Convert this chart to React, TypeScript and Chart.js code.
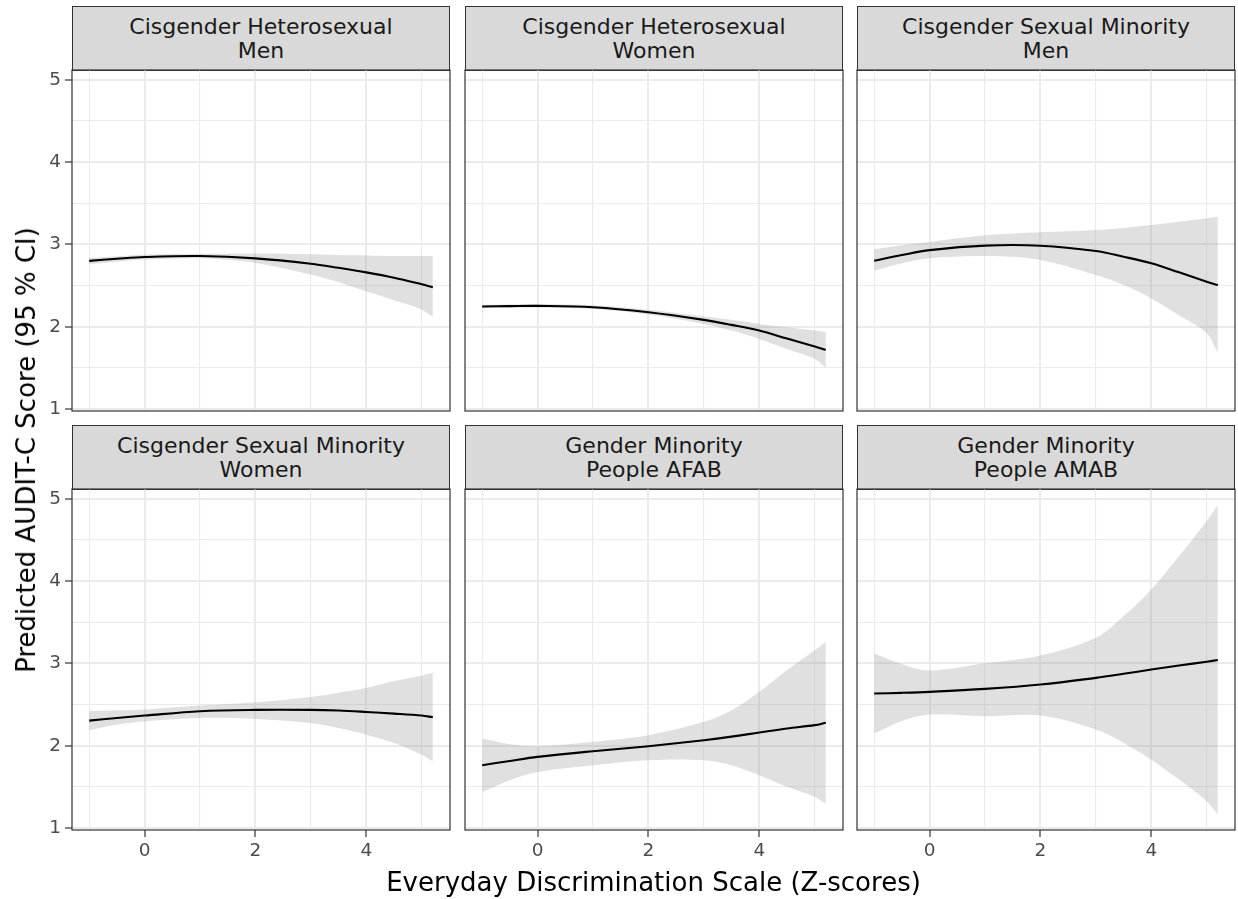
import React, { useEffect, useRef } from 'react';
import { Chart, registerables } from 'chart.js';

Chart.register(...registerables);

// ---------- data ----------
const xValues = [-1, -0.5, 0, 1, 2, 3, 3.5, 4, 4.5, 5, 5.2];

const panelTitles = [
  ['Cisgender Heterosexual', 'Men'],
  ['Cisgender Heterosexual', 'Women'],
  ['Cisgender Sexual Minority', 'Men'],
  ['Cisgender Sexual Minority', 'Women'],
  ['Gender Minority', 'People AFAB'],
  ['Gender Minority', 'People AMAB'],
];

const fitCHM = [2.80, 2.825, 2.846, 2.858, 2.83, 2.765, 2.715, 2.66, 2.595, 2.515, 2.48];
const upperCHM = [2.83, 2.855, 2.875, 2.885, 2.89, 2.88, 2.872, 2.866, 2.86, 2.858, 2.858];
const lowerCHM = [2.76, 2.79, 2.815, 2.83, 2.775, 2.634, 2.54, 2.43, 2.32, 2.207, 2.118];

const fitCHW = [2.245, 2.25, 2.253, 2.237, 2.176, 2.083, 2.022, 1.953, 1.856, 1.76, 1.719];
const upperCHW = [2.265, 2.27, 2.273, 2.26, 2.205, 2.123, 2.083, 2.034, 1.994, 1.953, 1.933];
const lowerCHW = [2.225, 2.23, 2.233, 2.214, 2.147, 2.034, 1.953, 1.852, 1.73, 1.61, 1.50];

const fitCSMM = [2.80, 2.87, 2.93, 2.985, 2.984, 2.92, 2.85, 2.77, 2.66, 2.547, 2.506];
const upperCSMM = [2.94, 2.99, 3.03, 3.11, 3.146, 3.174, 3.2, 3.235, 3.275, 3.316, 3.336];
const lowerCSMM = [2.68, 2.77, 2.83, 2.858, 2.81, 2.627, 2.506, 2.344, 2.14, 1.92, 1.684];

const fitCSMW = [2.305, 2.337, 2.366, 2.419, 2.435, 2.435, 2.427, 2.41, 2.39, 2.366, 2.346];
const upperCSMW = [2.42, 2.43, 2.44, 2.488, 2.528, 2.593, 2.642, 2.703, 2.785, 2.854, 2.886];
const lowerCSMW = [2.187, 2.256, 2.297, 2.337, 2.325, 2.276, 2.215, 2.134, 2.033, 1.89, 1.81];

const fitAFAB = [1.763, 1.815, 1.864, 1.933, 1.994, 2.067, 2.11, 2.16, 2.209, 2.25, 2.278];
const upperAFAB = [2.087, 2.018, 1.994, 2.047, 2.128, 2.29, 2.43, 2.655, 2.92, 3.16, 3.264];
const lowerAFAB = [1.438, 1.58, 1.68, 1.763, 1.824, 1.824, 1.763, 1.64, 1.5, 1.377, 1.296];

const fitAMAB = [2.634, 2.642, 2.654, 2.69, 2.743, 2.824, 2.873, 2.925, 2.974, 3.02, 3.04];
const upperAMAB = [3.12, 2.99, 2.913, 3.0, 3.096, 3.31, 3.574, 3.898, 4.30, 4.73, 4.92];
const lowerAMAB = [2.147, 2.30, 2.378, 2.358, 2.366, 2.196, 2.034, 1.83, 1.588, 1.325, 1.163];

const fits = [fitCHM, fitCHW, fitCSMM, fitCSMW, fitAFAB, fitAMAB];
const uppers = [upperCHM, upperCHW, upperCSMM, upperCSMW, upperAFAB, upperAMAB];
const lowers = [lowerCHM, lowerCHW, lowerCSMM, lowerCSMW, lowerAFAB, lowerAMAB];

const xTickValues = [-1, 0, 1, 2, 3, 4, 5];
const xTickLabels = ['', '0', '', '2', '', '4', ''];
const yTickValues = [1, 1.5, 2, 2.5, 3, 3.5, 4, 4.5, 5];
const yTickLabels = ['1', '', '2', '', '3', '', '4', '', '5'];

const xAxisTitle = 'Everyday Discrimination Scale (Z-scores)';
const yAxisTitle = 'Predicted AUDIT-C Score (95 % CI)';

// ---------- layout / style ----------
const X_MIN = -1.31;
const X_MAX = 5.51;
const Y_MIN = 0.976;
const Y_MAX = 5.118;

const COL_LEFT = [72, 465, 857];
const ROW_TOP = [70, 489];
const PLOT_W = 378;
const PLOT_H = 341;
const STRIP_H = 64;
const AXIS_W = 72;
const AXIS_H = 45;
const PAD_T = 15;
const PAD_R = 10;

const FONT = "'DejaVu Sans', 'Liberation Sans', sans-serif";
const BAND = 'rgba(153,153,153,0.3)';
const TENSION = 0.35;

const isMajorX = (v: number) => Math.abs(v % 2) < 1e-9;
const isMajorY = (v: number) => Math.abs(v - Math.round(v)) < 1e-9;

const borderPlugin = {
  id: 'panelBorder',
  afterDraw(chart: any) {
    const { ctx, chartArea } = chart;
    ctx.save();
    ctx.strokeStyle = '#333333';
    ctx.lineWidth = 1.2;
    ctx.strokeRect(chartArea.left, chartArea.top, chartArea.right - chartArea.left, chartArea.bottom - chartArea.top);
    ctx.restore();
  },
};

function Panel({ idx }: { idx: number }) {
  const ref = useRef<HTMLCanvasElement>(null);
  const col = idx % 3;
  const row = Math.floor(idx / 3);
  const showY = col === 0;
  const showX = row === 1;
  const cw = AXIS_W + PLOT_W + PAD_R;
  const ch = PAD_T + PLOT_H + AXIS_H;

  useEffect(() => {
    if (!ref.current) return;
    const mk = (arr: number[]) => xValues.map((x, i) => ({ x, y: arr[i] }));
    const chart = new Chart(ref.current, {
      type: 'line',
      data: {
        datasets: [
          {
            data: mk(fits[idx]),
            borderColor: '#000000',
            borderWidth: 2.1,
            pointRadius: 0,
            fill: false,
            tension: TENSION,
          },
          {
            data: mk(uppers[idx]),
            borderColor: 'rgba(0,0,0,0)',
            borderWidth: 0,
            pointRadius: 0,
            fill: false,
            tension: TENSION,
          },
          {
            data: mk(lowers[idx]),
            borderColor: 'rgba(0,0,0,0)',
            borderWidth: 0,
            pointRadius: 0,
            backgroundColor: BAND,
            fill: 1,
            tension: TENSION,
          },
        ],
      } as any,
      options: {
        animation: false,
        responsive: false,
        maintainAspectRatio: false,
        events: [],
        layout: { padding: { top: PAD_T, right: PAD_R, left: 0, bottom: 0 } },
        plugins: { legend: { display: false }, tooltip: { enabled: false } },
        scales: {
          x: {
            type: 'linear',
            min: X_MIN,
            max: X_MAX,
            afterBuildTicks: (s: any) => {
              s.ticks = xTickValues.map((v) => ({ value: v }));
            },
            afterFit: (s: any) => {
              s.height = AXIS_H;
              s.paddingLeft = 0;
              s.paddingRight = 0;
            },
            border: { display: false },
            grid: {
              color: '#ebebeb',
              lineWidth: (c: any) => (c.tick && isMajorX(c.tick.value) ? 2 : 1.1),
              drawTicks: showX,
              tickLength: 7,
              tickWidth: 1.2,
              tickColor: (c: any) => (c.tick && isMajorX(c.tick.value) ? '#333333' : 'rgba(0,0,0,0)'),
            },
            ticks: {
              display: showX,
              autoSkip: false,
              maxRotation: 0,
              padding: 3,
              color: '#4d4d4d',
              font: { family: FONT, size: 18.5 },
              callback: (_v: any, i: number) => xTickLabels[i],
            },
          },
          y: {
            type: 'linear',
            min: Y_MIN,
            max: Y_MAX,
            afterBuildTicks: (s: any) => {
              s.ticks = yTickValues.map((v) => ({ value: v }));
            },
            afterFit: (s: any) => {
              s.width = AXIS_W;
              s.paddingTop = 0;
              s.paddingBottom = 0;
            },
            border: { display: false },
            grid: {
              color: '#ebebeb',
              lineWidth: (c: any) => (c.tick && isMajorY(c.tick.value) ? 2 : 1.1),
              drawTicks: showY,
              tickLength: 7,
              tickWidth: 1.2,
              tickColor: (c: any) => (c.tick && isMajorY(c.tick.value) ? '#333333' : 'rgba(0,0,0,0)'),
            },
            ticks: {
              display: showY,
              autoSkip: false,
              padding: 4,
              color: '#4d4d4d',
              font: { family: FONT, size: 18.5 },
              callback: (_v: any, i: number) => yTickLabels[i],
            },
          },
        },
      } as any,
      plugins: [borderPlugin],
    });
    return () => chart.destroy();
  }, [idx]);

  return (
    <>
      <div
        style={{
          position: 'absolute',
          left: COL_LEFT[col],
          top: ROW_TOP[row] - STRIP_H,
          width: PLOT_W,
          height: STRIP_H + 1,
          boxSizing: 'border-box',
          background: '#d9d9d9',
          border: '1.2px solid #333333',
          display: 'flex',
          flexDirection: 'column',
          alignItems: 'center',
          justifyContent: 'center',
          fontFamily: FONT,
          fontSize: 22,
          lineHeight: '24px',
          color: '#1a1a1a',
          textAlign: 'center',
        }}
      >
        {panelTitles[idx].map((t, i) => (
          <div key={i}>{t}</div>
        ))}
      </div>
      <canvas
        ref={ref}
        width={cw}
        height={ch}
        style={{
          position: 'absolute',
          left: COL_LEFT[col] - AXIS_W,
          top: ROW_TOP[row] - PAD_T,
          width: cw,
          height: ch,
        }}
      />
    </>
  );
}

export default function App() {
  return (
    <div
      style={{
        position: 'absolute',
        left: 0,
        top: 0,
        width: 1238,
        height: 899,
        background: '#ffffff',
        overflow: 'hidden',
      }}
    >
      {[0, 1, 2, 3, 4, 5].map((i) => (
        <Panel key={i} idx={i} />
      ))}
      <div
        style={{
          position: 'absolute',
          left: 653.5,
          top: 882,
          transform: 'translate(-50%, -50%)',
          whiteSpace: 'nowrap',
          fontFamily: FONT,
          fontSize: 26,
          color: '#000000',
        }}
      >
        {xAxisTitle}
      </div>
      <div
        style={{
          position: 'absolute',
          left: 26,
          top: 450,
          transform: 'translate(-50%, -50%) rotate(-90deg)',
          whiteSpace: 'nowrap',
          fontFamily: FONT,
          fontSize: 26,
          color: '#000000',
        }}
      >
        {yAxisTitle}
      </div>
    </div>
  );
}
